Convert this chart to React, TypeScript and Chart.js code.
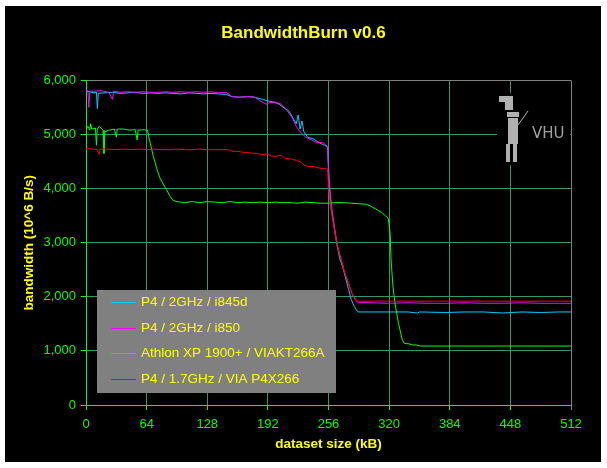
import React, { useEffect, useRef } from 'react';
import { Chart, registerables } from 'chart.js';

Chart.register(...registerables);

const TITLE = 'BandwidthBurn v0.6';
const X_TITLE = 'dataset size (kB)';
const Y_TITLE = 'bandwidth (10^6 B/s)';
const X_TICKS = [0, 64, 128, 192, 256, 320, 384, 448, 512];
const Y_TICKS = [0, 1000, 2000, 3000, 4000, 5000, 6000];
const SERIES_NAMES = [
  'P4 / 2GHz / i845d',
  'P4 / 2GHz / i850',
  'Athlon XP 1900+ / VIAKT266A',
  'P4 / 1.7GHz / VIA P4X266',
];
const SERIES_COLORS = ['#00ccff', '#ff00ff', '#00ff00', '#ff0000'];

const i845dX = [0, 4, 8, 11, 12, 13, 20, 28, 36, 44, 52, 60, 68, 76, 84, 92, 100, 108, 116, 124, 132, 140, 148, 154, 162, 170, 178, 186, 192, 198, 204, 210, 214, 218, 222, 224, 226, 228, 230, 234, 240, 246, 252, 255, 256, 257, 259, 262, 265, 268, 271, 274, 277, 280, 283, 286, 288, 300, 320, 340, 350, 352, 380, 400, 420, 440, 460, 480, 500, 512];
const i845dY = [5800, 5790, 5770, 5780, 5480, 5760, 5770, 5780, 5760, 5770, 5780, 5760, 5770, 5760, 5770, 5760, 5750, 5770, 5760, 5750, 5760, 5750, 5740, 5700, 5690, 5700, 5690, 5650, 5620, 5600, 5560, 5480, 5440, 5320, 5200, 5360, 5100, 5250, 5050, 4950, 4920, 4850, 4800, 4770, 4400, 4000, 3650, 3300, 2950, 2700, 2550, 2350, 2150, 1950, 1830, 1740, 1720, 1720, 1720, 1720, 1700, 1720, 1710, 1720, 1720, 1700, 1720, 1710, 1720, 1720];

const i850X = [0, 2, 3, 4, 8, 16, 24, 28, 29, 36, 44, 52, 60, 68, 76, 84, 92, 100, 108, 116, 124, 132, 140, 148, 154, 162, 170, 178, 186, 190, 194, 200, 206, 212, 218, 222, 226, 232, 238, 244, 250, 255, 256, 258, 260, 263, 266, 270, 273, 277, 281, 284, 287, 300, 320, 340, 360, 380, 400, 420, 440, 460, 480, 500, 512];
const i850Y = [5820, 5810, 5500, 5800, 5800, 5810, 5780, 5650, 5800, 5780, 5790, 5780, 5790, 5780, 5780, 5790, 5780, 5790, 5780, 5790, 5780, 5790, 5770, 5780, 5700, 5690, 5700, 5690, 5600, 5560, 5590, 5600, 5560, 5450, 5300, 5150, 5050, 4950, 4900, 4850, 4850, 4780, 4300, 3900, 3550, 3200, 2900, 2650, 2450, 2250, 2050, 1950, 1900, 1890, 1880, 1890, 1880, 1880, 1890, 1880, 1880, 1890, 1880, 1880, 1880];

const athlonX = [0, 2, 4, 5, 6, 10, 11, 12, 14, 18, 19, 20, 24, 30, 32, 33, 40, 46, 52, 54, 55, 60, 65, 67, 69, 71, 73, 75, 78, 81, 85, 89, 92, 96, 104, 112, 120, 128, 136, 144, 152, 160, 168, 176, 184, 192, 200, 208, 216, 224, 232, 240, 248, 256, 264, 272, 280, 288, 296, 300, 304, 308, 312, 316, 319, 321, 322, 324, 326, 328, 330, 332, 334, 336, 341, 345, 349, 353, 380, 420, 460, 512];
const athlonY = [5100, 5150, 5080, 5200, 5100, 5120, 4800, 5100, 5150, 5080, 4650, 5050, 5080, 5100, 4950, 5100, 5100, 5080, 5090, 4900, 5080, 5090, 5080, 4900, 4750, 4600, 4480, 4350, 4200, 4100, 3980, 3850, 3780, 3760, 3740, 3760, 3740, 3760, 3750, 3740, 3760, 3740, 3750, 3740, 3750, 3740, 3750, 3740, 3740, 3730, 3750, 3740, 3730, 3730, 3740, 3740, 3730, 3720, 3710, 3680, 3640, 3600, 3560, 3500, 3450, 3200, 2700, 2200, 1900, 1700, 1500, 1350, 1200, 1140, 1130, 1110, 1110, 1090, 1090, 1090, 1090, 1090];

const p4x266X = [0, 4, 8, 12, 14, 15, 24, 32, 40, 48, 56, 64, 72, 80, 88, 96, 104, 112, 120, 128, 136, 144, 150, 154, 160, 166, 172, 180, 186, 192, 196, 202, 206, 210, 216, 222, 226, 230, 234, 240, 246, 252, 255, 256, 258, 260, 263, 266, 270, 273, 277, 281, 284, 287, 300, 320, 340, 360, 380, 400, 420, 440, 460, 480, 500, 512];
const p4x266Y = [4730, 4740, 4730, 4720, 4630, 4730, 4730, 4720, 4730, 4720, 4730, 4720, 4730, 4720, 4720, 4730, 4720, 4720, 4730, 4720, 4720, 4720, 4720, 4690, 4690, 4670, 4660, 4650, 4630, 4640, 4600, 4600, 4620, 4560, 4550, 4520, 4500, 4440, 4410, 4410, 4380, 4370, 4360, 4000, 3700, 3450, 3150, 2900, 2650, 2450, 2250, 2050, 1960, 1920, 1920, 1920, 1920, 1920, 1920, 1920, 1920, 1920, 1920, 1920, 1920, 1920];

const SERIES_X = [i845dX, i850X, athlonX, p4x266X];
const SERIES_Y = [i845dY, i850Y, athlonY, p4x266Y];

const FONT = 'Arial, "Liberation Sans", sans-serif';
const GRID = '#339966';
const GREY = '#808080';

const bgPlugin = {
  id: 'bg',
  beforeDraw(chart: any) {
    const { ctx, width, height } = chart;
    ctx.save();
    ctx.fillStyle = '#ffffff';
    ctx.fillRect(0, 0, width, height);
    ctx.fillStyle = '#000000';
    ctx.fillRect(5, 6, 596, 456);
    ctx.restore();
  },
};

const overlayPlugin = {
  id: 'overlay',
  afterDraw(chart: any) {
    const { ctx } = chart;
    ctx.save();
    // mascot logo area
    ctx.fillStyle = '#000000';
    ctx.fillRect(497, 93, 73, 72);
    ctx.fillStyle = '#b0b0b0';
    ctx.fillRect(499, 96, 14, 6);
    ctx.fillRect(505, 102, 8, 8);
    ctx.fillRect(507, 112, 12, 5);
    ctx.fillRect(508, 118, 10, 26);
    ctx.fillRect(506, 144, 4, 18);
    ctx.fillRect(513, 144, 4, 18);
    ctx.strokeStyle = '#b0b0b0';
    ctx.lineWidth = 1;
    ctx.beginPath();
    ctx.moveTo(518, 125);
    ctx.lineTo(528, 111);
    ctx.stroke();
    ctx.font = '15px "DejaVu Sans", sans-serif';
    ctx.fillStyle = '#a0a0a0';
    ctx.textBaseline = 'middle';
    ctx.textAlign = 'left';
    ctx.fillText('VHU', 532, 134);

    // legend
    ctx.fillStyle = GREY;
    ctx.fillRect(97, 290, 239, 103);
    const rows = [302, 328, 353, 379];
    ctx.font = `13.5px ${FONT}`;
    ctx.textBaseline = 'middle';
    ctx.textAlign = 'left';
    SERIES_NAMES.forEach((name, i) => {
      ctx.strokeStyle = SERIES_COLORS[i];
      ctx.lineWidth = 1;
      ctx.beginPath();
      ctx.moveTo(111, rows[i] + 0.5);
      ctx.lineTo(136, rows[i] + 0.5);
      ctx.stroke();
      ctx.fillStyle = '#ffff00';
      ctx.fillText(name, 141, rows[i]);
    });
    ctx.restore();
  },
};

export default function App() {
  const ref = useRef<HTMLCanvasElement | null>(null);

  useEffect(() => {
    if (!ref.current) return;
    const datasets = SERIES_NAMES.map((name, i) => ({
      label: name,
      data: SERIES_X[i].map((x, j) => ({ x, y: SERIES_Y[i][j] })),
      borderColor: SERIES_COLORS[i],
      backgroundColor: SERIES_COLORS[i],
      borderWidth: 1,
      pointRadius: 0,
      tension: 0,
      fill: false,
      order: 4 - i,
    }));

    const chart = new Chart(ref.current, {
      type: 'line',
      data: { datasets },
      plugins: [bgPlugin, overlayPlugin],
      options: {
        responsive: false,
        animation: false,
        devicePixelRatio: 1,
        layout: { padding: 0 },
        plugins: {
          legend: { display: false },
          tooltip: { enabled: false },
          title: {
            display: true,
            text: TITLE,
            color: '#ffff00',
            font: { family: FONT, size: 17, weight: 'bold' },
            padding: { top: 23, bottom: 37 },
          },
        },
        scales: {
          x: {
            type: 'linear',
            position: 'bottom',
            min: 0,
            max: 512,
            afterBuildTicks: (s: any) => {
              s.ticks = X_TICKS.map((v) => ({ value: v }));
            },
            afterFit: (s: any) => {
              s.height = 63;
            },
            grid: {
              color: (c: any) => (c.tick && c.tick.value === 512 ? GREY : GRID),
              tickColor: (c: any) => (c.tick && c.tick.value === 512 ? GREY : '#00ff00'),
              tickLength: 5,
              lineWidth: 1,
            },
            border: { color: '#00ff00', width: 1 },
            ticks: {
              color: '#00ff00',
              font: { family: FONT, size: 13 },
              padding: 7,
              maxRotation: 0,
              autoSkip: false,
              callback: (v: any) => String(v),
            },
            title: {
              display: true,
              text: X_TITLE,
              color: '#ffff00',
              font: { family: FONT, size: 13.5, weight: 'bold' },
              padding: { top: 0, bottom: 16 },
            },
          },
          y: {
            type: 'linear',
            position: 'left',
            min: 0,
            max: 6000,
            afterBuildTicks: (s: any) => {
              s.ticks = Y_TICKS.map((v) => ({ value: v }));
            },
            afterFit: (s: any) => {
              s.width = 86;
            },
            grid: {
              color: (c: any) => (c.tick && c.tick.value === 6000 ? GREY : GRID),
              tickColor: '#00ff00',
              tickLength: 5,
              lineWidth: 1,
            },
            border: { color: '#00ff00', width: 1 },
            ticks: {
              color: '#00ff00',
              font: { family: FONT, size: 13 },
              padding: 5,
              callback: (v: any) => Number(v).toLocaleString('en-US'),
            },
            title: {
              display: true,
              text: Y_TITLE,
              color: '#ffff00',
              font: { family: FONT, size: 13.5, weight: 'bold' },
              padding: { top: 21, bottom: 0 },
            },
          },
          y2: {
            type: 'linear',
            position: 'right',
            display: true,
            grid: { display: false },
            ticks: { display: false },
            border: { display: false },
            afterFit: (s: any) => {
              s.width = 36;
            },
          },
        },
      } as any,
    });
    return () => chart.destroy();
  }, []);

  return (
    <div style={{ position: 'fixed', left: 0, top: 0, width: 607, height: 468 }}>
      <canvas ref={ref} width={607} height={468} style={{ display: 'block', width: 607, height: 468 }} />
    </div>
  );
}
